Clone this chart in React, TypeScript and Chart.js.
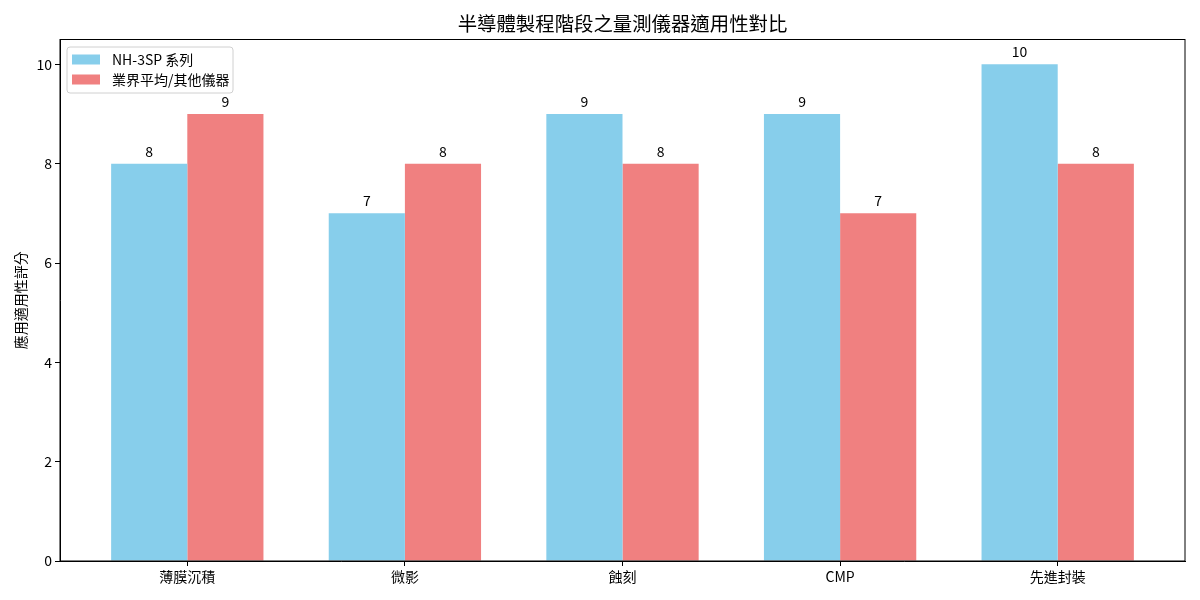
import { useRef, useEffect } from 'react';
import { Chart, registerables } from 'chart.js';

Chart.register(...registerables);

const FONT = '"Noto Sans CJK TC", "Noto Sans", sans-serif';

// Data
const stages = ['薄膜沉積', '微影', '蝕刻', 'CMP', '先進封裝'];
const nh3spScores = [8, 7, 9, 9, 10];
const industryScores = [9, 8, 8, 7, 8];
const seriesLabels = ['NH-3SP 系列', '業界平均/其他儀器'];
const seriesColors = ['#87CEEB', '#F08080'];
const chartTitle = '半導體製程階段之量測儀器適用性對比';
const yAxisTitle = '應用適用性評分';

// frame, title, value labels and legend drawn in matplotlib style
const decorPlugin = {
  id: 'decor',
  afterDatasetsDraw(chart: any) {
    const { ctx } = chart;
    ctx.save();
    // value labels above bars
    ctx.fillStyle = '#000';
    ctx.font = `14px ${FONT}`;
    ctx.textAlign = 'center';
    ctx.textBaseline = 'alphabetic';
    chart.data.datasets.forEach((ds: any, di: number) => {
      const meta = chart.getDatasetMeta(di);
      meta.data.forEach((bar: any, i: number) => {
        ctx.fillText(String(ds.data[i].y), bar.x, bar.y - 7);
      });
    });
    ctx.restore();
  },
  afterDraw(chart: any) {
    const { ctx, chartArea } = chart;
    const { left, right, top, bottom } = chartArea;
    ctx.save();
    // frame
    ctx.strokeStyle = '#000';
    ctx.lineWidth = 1;
    ctx.strokeRect(left, top, right - left, bottom - top);

    // title
    ctx.fillStyle = '#000';
    ctx.font = `19.4px ${FONT}`;
    ctx.textAlign = 'center';
    ctx.textBaseline = 'alphabetic';
    ctx.fillText(chartTitle, (left + right) / 2, 31);

    // y axis title
    ctx.save();
    ctx.translate(21, (top + bottom) / 2);
    ctx.rotate(-Math.PI / 2);
    ctx.font = `14px ${FONT}`;
    ctx.textBaseline = 'middle';
    ctx.fillText(yAxisTitle, 0, 0);
    ctx.restore();

    // legend
    const lx = left + 7;
    const ly = top + 7.5;
    const lw = 166;
    const lh = 46;
    ctx.beginPath();
    ctx.roundRect(lx, ly, lw, lh, 3);
    ctx.fillStyle = 'rgba(255,255,255,0.8)';
    ctx.fill();
    ctx.strokeStyle = '#d0d0d0';
    ctx.stroke();
    ctx.font = `14px ${FONT}`;
    ctx.textAlign = 'left';
    ctx.textBaseline = 'middle';
    seriesLabels.forEach((label, i) => {
      const cy = ly + 12.5 + i * 20;
      ctx.fillStyle = seriesColors[i];
      ctx.fillRect(lx + 5, cy - 5, 28, 10);
      ctx.fillStyle = '#000';
      ctx.fillText(label, lx + 45, cy);
    });
    ctx.restore();
  },
};

export default function App() {
  const chartRef = useRef<HTMLCanvasElement>(null);
  const chartInstance = useRef<Chart | null>(null);

  useEffect(() => {
    if (!chartRef.current) return;
    if (chartInstance.current) chartInstance.current.destroy();
    const ctx = chartRef.current.getContext('2d');
    if (!ctx) return;

    chartInstance.current = new Chart(ctx, {
      type: 'bar',
      data: {
        datasets: [
          {
            label: seriesLabels[0],
            data: nh3spScores.map((v, i) => ({ x: i, y: v })),
            backgroundColor: seriesColors[0],
            categoryPercentage: 0.7,
            barPercentage: 1.0,
          },
          {
            label: seriesLabels[1],
            data: industryScores.map((v, i) => ({ x: i, y: v })),
            backgroundColor: seriesColors[1],
            categoryPercentage: 0.7,
            barPercentage: 1.0,
          },
        ],
      },
      options: {
        animation: false,
        responsive: false,
        maintainAspectRatio: false,
        layout: { padding: { top: 39.5, right: 15, left: 0, bottom: 0 } },
        plugins: {
          legend: { display: false },
          title: { display: false },
          tooltip: { enabled: false },
        },
        scales: {
          x: {
            type: 'linear',
            min: -0.585,
            max: 4.585,
            offset: false,
            grid: {
              offset: false,
              drawOnChartArea: false,
              drawTicks: true,
              tickLength: 5,
              tickColor: '#000',
            },
            border: { display: true, color: '#000' },
            ticks: {
              stepSize: 1,
              includeBounds: false,
              autoSkip: false,
              maxRotation: 0,
              padding: 2,
              color: '#000',
              font: { family: FONT, size: 14 },
              callback: (value: any) => stages[value as number] ?? '',
            },
            afterFit: (scale: any) => {
              scale.height = 39;
            },
          },
          y: {
            min: 0,
            max: 10.5,
            grid: {
              drawOnChartArea: false,
              drawTicks: true,
              tickLength: 5,
              tickColor: '#000',
            },
            border: { display: true, color: '#000' },
            ticks: {
              stepSize: 2,
              includeBounds: false,
              padding: 3,
              color: '#000',
              font: { family: FONT, size: 14 },
            },
            afterFit: (scale: any) => {
              scale.width = 60;
            },
          },
        },
      },
      plugins: [decorPlugin],
    });

    return () => {
      if (chartInstance.current) {
        chartInstance.current.destroy();
        chartInstance.current = null;
      }
    };
  }, []);

  return (
    <div style={{ position: 'fixed', left: 0, top: 0, width: 1200, height: 600, background: '#fff' }}>
      <canvas ref={chartRef} width={1200} height={600} style={{ width: 1200, height: 600 }} />
    </div>
  );
}
